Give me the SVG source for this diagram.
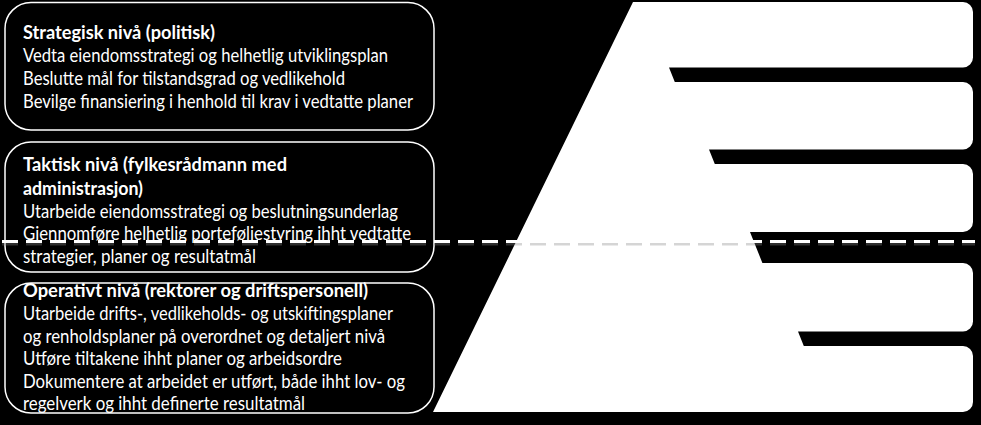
<svg xmlns="http://www.w3.org/2000/svg" width="981" height="425" viewBox="0 0 981 425">
<style>
.box{fill:none;stroke:#ffffff;stroke-width:1.5}
.t{font-family:Lato,"Open Sans","Liberation Sans",sans-serif;font-size:18.5px;fill:#ffffff}
.b{font-weight:bold}
.dash{stroke:#ffffff;stroke-width:3;stroke-dasharray:16 8;fill:none}
.shadow{stroke:#888888;stroke-width:3;stroke-dasharray:16 8;fill:none;opacity:0.35}
</style>
<rect x="0" y="0" width="981" height="425" fill="#000000"/>
<g id="stair">
<path fill="#ffffff" d="M633,2 L963,2 A10,10 0 0 1 973,12 L973,57.5 A10,10 0 0 1 963,67.5 L669,67.5 L674.8,82 L963,82 A10,10 0 0 1 973,92 L973,139.5 A10,10 0 0 1 963,149.5 L709,149.5 L714.8,164 L963,164 A10,10 0 0 1 973,174 L973,222 A10,10 0 0 1 963,232 L750,232 L762.4,263 L963,263 A10,10 0 0 1 973,273 L973,321.5 A10,10 0 0 1 963,331.5 L798,331.5 L803.8,346 L963,346 A10,10 0 0 1 973,356 L973,402 A10,10 0 0 1 963,412 L433,412 Z"/>
</g>
<g id="strategisk">
<rect class="box" x="5" y="2.5" width="429" height="127.5" rx="26"/>
<text class="t b" x="23" y="38.5" textLength="192" lengthAdjust="spacingAndGlyphs">Strategisk nivå (politisk)</text>
<text class="t" x="23" y="61.7" textLength="365" lengthAdjust="spacingAndGlyphs">Vedta eiendomsstrategi og helhetlig utviklingsplan</text>
<text class="t" x="23" y="85" textLength="322" lengthAdjust="spacingAndGlyphs">Beslutte mål for tilstandsgrad og vedlikehold</text>
<text class="t" x="23" y="108.3" textLength="390" lengthAdjust="spacingAndGlyphs">Bevilge finansiering i henhold til krav i vedtatte planer</text>
</g>
<g id="taktisk">
<rect class="box" x="5" y="142" width="429" height="130" rx="26"/>
<text class="t b" x="23" y="171" textLength="264" lengthAdjust="spacingAndGlyphs">Taktisk nivå (fylkesrådmann med</text>
<text class="t b" x="23" y="195" textLength="120" lengthAdjust="spacingAndGlyphs">administrasjon)</text>
<text class="t" x="23" y="217.7" textLength="375" lengthAdjust="spacingAndGlyphs">Utarbeide eiendomsstrategi og beslutningsunderlag</text>
<text class="t" x="23" y="240" textLength="388" lengthAdjust="spacingAndGlyphs">Gjennomføre helhetlig porteføljestyring ihht vedtatte</text>
<text class="t" x="23" y="263" textLength="233" lengthAdjust="spacingAndGlyphs">strategier, planer og resultatmål</text>
</g>
<g id="operativt">
<rect class="box" x="5" y="283" width="429" height="130" rx="26"/>
<text class="t b" x="23" y="296.7" textLength="345" lengthAdjust="spacingAndGlyphs">Operativt nivå (rektorer og driftspersonell)</text>
<text class="t" x="23" y="320" textLength="370" lengthAdjust="spacingAndGlyphs">Utarbeide drifts-, vedlikeholds- og utskiftingsplaner</text>
<text class="t" x="23" y="342.7" textLength="362" lengthAdjust="spacingAndGlyphs">og renholdsplaner på overordnet og detaljert nivå</text>
<text class="t" x="23" y="365" textLength="319" lengthAdjust="spacingAndGlyphs">Utføre tiltakene ihht planer og arbeidsordre</text>
<text class="t" x="23" y="388.3" textLength="382" lengthAdjust="spacingAndGlyphs">Dokumentere at arbeidet er utført, både ihht lov- og</text>
<text class="t" x="23" y="410" textLength="282" lengthAdjust="spacingAndGlyphs">regelverk og ihht definerte resultatmål</text>
</g>
<g id="connectors">
<line class="shadow" x1="2" y1="244" x2="975" y2="244"/>
<line class="dash" x1="2" y1="241.5" x2="975" y2="241.5"/>
</g>
</svg>
